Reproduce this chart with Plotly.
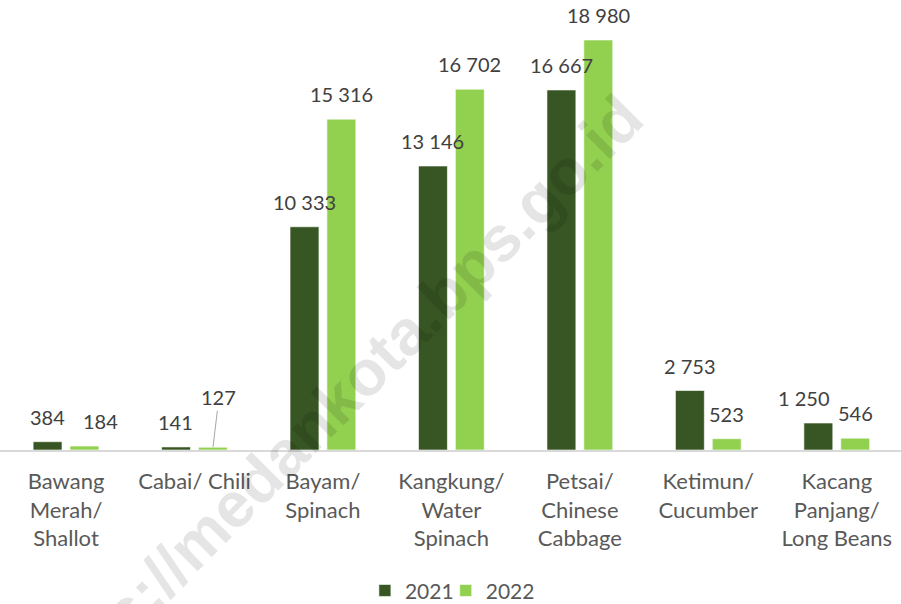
import plotly.graph_objects as go

categories = ["Bawang<br>Merah/<br>Shallot", "Cabai/ Chili", "Bayam/<br>Spinach",
              "Kangkung/<br>Water<br>Spinach", "Petsai/<br>Chinese<br>Cabbage",
              "Ketimun/<br>Cucumber", "Kacang<br>Panjang/<br>Long Beans"]
values_2021 = [384, 141, 10333, 13146, 16667, 2753, 1250]
values_2022 = [184, 127, 15316, 16702, 18980, 523, 546]
series_names = ["2021", "2022"]

C2021 = "#375623"
C2022 = "#92D050"
FONT = "Lato"
Y_MAX = 20368

def fmt(v):
    return f"{v:,}".replace(",", " ")

fig = go.Figure()
fig.add_trace(go.Bar(name=series_names[0], x=categories, y=values_2021, legend="legend",
                     marker=dict(color=C2021, line=dict(color="white", width=0.6))))
fig.add_trace(go.Bar(name=series_names[1], x=categories, y=values_2022, legend="legend2",
                     marker=dict(color=C2022, line=dict(color="white", width=0.6))))

annotations = []
# watermark (placed in axis coordinates)
annotations.append(dict(text="https://medankota.bps.go.id", xref="x", yref="y",
                        x=2.054, y=1944, xanchor="center", yanchor="middle",
                        textangle=-45, showarrow=False,
                        font=dict(family="Liberation Sans", size=64, color="rgba(0,0,0,0.10)",
                                  weight="bold")))

# label style offsets (pixels), per series
off = 18.5
extra_x = {(0, 1): 16, (6, 0): -14}
for si, vals in enumerate([values_2021, values_2022]):
    for ci, v in enumerate(vals):
        xs = (-off if si == 0 else off) + extra_x.get((ci, si), 0)
        if (ci, si) == (1, 1):
            annotations.append(dict(x=categories[ci], y=v, xref="x", yref="y", xshift=off,
                                    text=fmt(v), showarrow=True, ax=6, ay=-50,
                                    arrowhead=0, arrowwidth=1, arrowcolor="#A6A6A6",
                                    standoff=0, startstandoff=0,
                                    font=dict(family=FONT, size=20, color="#404040")))
        else:
            annotations.append(dict(x=categories[ci], y=v, xref="x", yref="y",
                                    xshift=xs, yshift=25, yanchor="middle", xanchor="center",
                                    text=fmt(v), showarrow=False,
                                    font=dict(family=FONT, size=20, color="#404040")))

leg_style = dict(orientation="h", xanchor="left", yanchor="middle", y=-0.32,
                 font=dict(family=FONT, size=21, color="#595959"), itemwidth=30,
                 bgcolor="rgba(0,0,0,0)")

fig.update_layout(
    width=901, height=604,
    margin=dict(l=0, r=0, t=10, b=154, autoexpand=False),
    paper_bgcolor="white", plot_bgcolor="white",
    barmode="group", bargap=0.426, bargroupgap=0.216,
    showlegend=True,
    legend=dict(x=0.405, **leg_style),
    legend2=dict(x=0.4947, **leg_style),
    annotations=annotations,
    font=dict(family=FONT),
)
fig.update_xaxes(showline=True, linecolor="#D9D9D9", linewidth=1.5, showgrid=False,
                 ticks="", tickfont=dict(family=FONT, size=22, color="#595959"),
                 tickangle=0, automargin=False, ticklabelstandoff=11)
fig.update_yaxes(visible=False, range=[0, Y_MAX], showgrid=False, zeroline=False,
                 automargin=False)

fig.write_html("out.html", config={"displayModeBar": False},
               post_script="document.body.style.margin='0';document.body.style.overflow='hidden';")
